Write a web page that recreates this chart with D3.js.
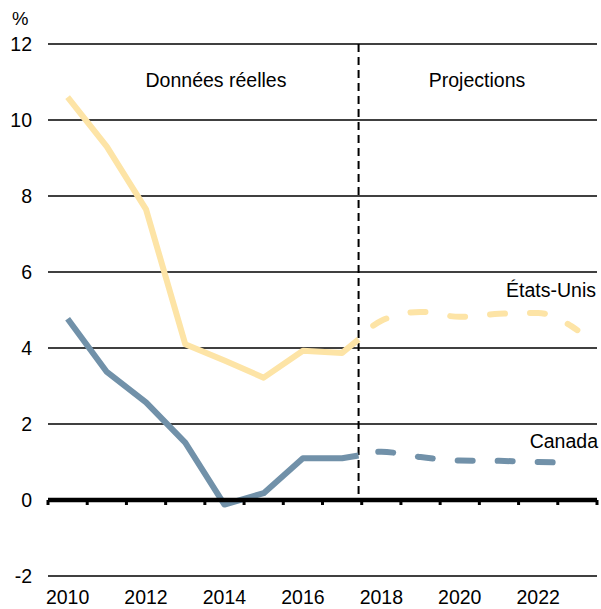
<!DOCTYPE html>
<html>
<head>
<meta charset="utf-8">
<script src="https://cdn.jsdelivr.net/npm/d3@7"></script>
<style>
  body { margin: 0; background: #fff; }
  text { font-family: "Liberation Sans", Arial, sans-serif; fill: #000; }
</style>
</head>
<body>
<svg id="chart" width="601" height="609"></svg>
<script>
// données
const years = d3.range(2010, 2024);
const actualYears = [2010, 2011, 2012, 2013, 2014, 2015, 2016, 2017];
const projYears = [2018, 2019, 2020, 2021, 2022, 2023];
const usActual = [10.6, 9.3, 7.65, 4.1, 3.67, 3.22, 3.93, 3.87];
const usProj = [4.72, 4.95, 4.82, 4.9, 4.92, 4.47];
const caActual = [4.77, 3.37, 2.57, 1.51, -0.12, 0.18, 1.1, 1.1];
const caProj = [1.27, 1.13, 1.04, 1.03, 1.0, 0.98];
const yTicks = [-2, 0, 2, 4, 6, 8, 10, 12];
const yearLabels = [2010, 2012, 2014, 2016, 2018, 2020, 2022];
const splitYear = 2017.42; // ligne verticale entre réel et projections

const svg = d3.select('#chart');

// Échelles
const x = d3.scaleLinear().domain([2009.5, 2023.5]).range([48, 597]);
const y = d3.scaleLinear().domain([-2, 12]).range([576, 44]);

// Grille
svg.append('g')
  .selectAll('line')
  .data(yTicks.filter(d => d !== 0))
  .enter().append('line')
  .attr('x1', x(2009.5)).attr('x2', x(2023.5))
  .attr('y1', d => y(d)).attr('y2', d => y(d))
  .attr('stroke', '#000')
  .attr('stroke-width', 1.5);

// Libellés de l'axe y
svg.append('g')
  .selectAll('text')
  .data(yTicks)
  .enter().append('text')
  .attr('x', 32)
  .attr('y', d => y(d))
  .attr('dy', '0.36em')
  .attr('text-anchor', 'end')
  .style('font-size', '19.5px')
  .text(d => d);

svg.append('text')
  .attr('x', 12).attr('y', 25)
  .style('font-size', '18.5px')
  .text('%');

// Libellés des années
svg.append('g')
  .selectAll('text')
  .data(yearLabels)
  .enter().append('text')
  .attr('x', d => x(d))
  .attr('y', 604)
  .attr('text-anchor', 'middle')
  .style('font-size', '19.5px')
  .text(d => d);

// Ligne verticale pointillée
svg.append('line')
  .attr('x1', x(splitYear)).attr('x2', x(splitYear))
  .attr('y1', y(12)).attr('y2', y(0))
  .attr('stroke', '#000')
  .attr('stroke-width', 2)
  .attr('stroke-dasharray', '8,5');

// Séries
function interp(a, b) {
  return a + (b - a) * (splitYear - 2017);
}

const series = [
  { actual: usActual, proj: usProj, color: '#fde4a6' },
  { actual: caActual, proj: caProj, color: '#7191a9' }
];

const lineSolid = d3.line()
  .x(d => x(d[0]))
  .y(d => y(d[1]));

const lineDash = d3.line()
  .x(d => x(d[0]))
  .y(d => y(d[1]))
  .curve(d3.curveMonotoneX);

series.forEach(s => {
  const split = interp(s.actual[s.actual.length - 1], s.proj[0]);
  const solidPts = actualYears.map((yr, i) => [yr, s.actual[i]]);
  solidPts.push([splitYear, split]);
  const dashPts = [[splitYear, split]].concat(projYears.map((yr, i) => [yr, s.proj[i]]));

  svg.append('path')
    .attr('d', lineSolid(solidPts))
    .attr('fill', 'none')
    .attr('stroke', s.color)
    .attr('stroke-width', 6)
    .attr('stroke-linejoin', 'round');

  svg.append('path')
    .attr('d', lineDash(dashPts))
    .attr('fill', 'none')
    .attr('stroke', s.color)
    .attr('stroke-width', 6)
    .attr('stroke-linecap', 'round')
    .attr('stroke-dasharray', '15,25')
    .attr('stroke-dashoffset', -20);
});

// Ligne zéro avec graduations
svg.append('line')
  .attr('x1', x(2009.5)).attr('x2', x(2023.5))
  .attr('y1', y(0)).attr('y2', y(0))
  .attr('stroke', '#000')
  .attr('stroke-width', 4.5);

svg.append('g')
  .selectAll('line')
  .data(years.concat([2024]))
  .enter().append('line')
  .attr('x1', d => x(d - 0.5)).attr('x2', d => x(d - 0.5))
  .attr('y1', y(0)).attr('y2', y(0) + 5)
  .attr('stroke', '#000')
  .attr('stroke-width', 3);

// Annotations
svg.append('text')
  .attr('x', 216).attr('y', 87)
  .attr('text-anchor', 'middle')
  .style('font-size', '19.5px')
  .text('Données réelles');

svg.append('text')
  .attr('x', 477).attr('y', 87)
  .attr('text-anchor', 'middle')
  .style('font-size', '19.5px')
  .text('Projections');

svg.append('text')
  .attr('x', 596).attr('y', 297)
  .attr('text-anchor', 'end')
  .style('font-size', '19.5px')
  .text('États-Unis');

svg.append('text')
  .attr('x', 598).attr('y', 448)
  .attr('text-anchor', 'end')
  .style('font-size', '19.5px')
  .text('Canada');
</script>
</body>
</html>
